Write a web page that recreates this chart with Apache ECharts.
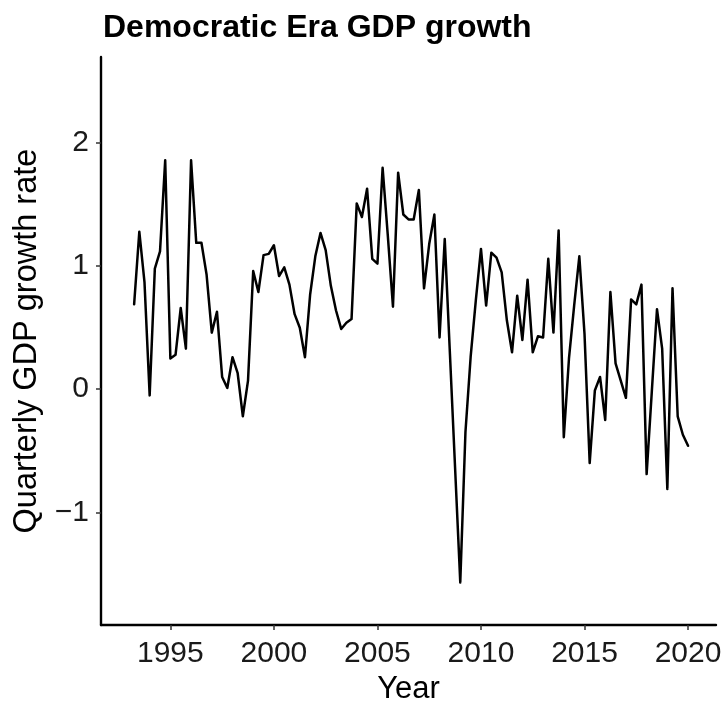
<!DOCTYPE html>
<html>
<head>
<meta charset="utf-8">
<script src="https://cdn.jsdelivr.net/npm/echarts@6/dist/echarts.min.js"></script>
<style>
html,body{margin:0;padding:0;background:#fff;}
#chart{width:725px;height:710px;}
</style>
</head>
<body>
<div id="chart"></div>
<script>
// Quarterly GDP growth, first observation 1993 Q2, last 2020 Q1
const firstYear = 1993;
const firstQuarter = 2;
const growth = [
  0.69, 1.28, 0.87,
  -0.05, 0.98, 1.12, 1.86,
  0.25, 0.28, 0.66, 0.33,
  1.86, 1.19, 1.19, 0.93,
  0.46, 0.63, 0.10, 0.01,
  0.26, 0.13, -0.22, 0.07,
  0.96, 0.79, 1.09, 1.10,
  1.17, 0.92, 0.99, 0.85,
  0.61, 0.50, 0.26, 0.77,
  1.08, 1.27, 1.13, 0.84,
  0.64, 0.49, 0.54, 0.57,
  1.51, 1.40, 1.63, 1.06,
  1.02, 1.80, 1.25, 0.67,
  1.76, 1.42, 1.38, 1.38,
  1.62, 0.82, 1.18, 1.42,
  0.42, 1.22, 0.29, -0.64,
  -1.57, -0.35, 0.26, 0.72,
  1.14, 0.68, 1.11, 1.07,
  0.95, 0.56, 0.30, 0.76,
  0.40, 0.89, 0.30, 0.43,
  0.42, 1.06, 0.46, 1.29,
  -0.39, 0.25, 0.68, 1.08,
  0.45, -0.60, -0.01, 0.10,
  -0.25, 0.79, 0.21, 0.07,
  -0.07, 0.73, 0.69, 0.85,
  -0.69, -0.02, 0.65, 0.33,
  -0.81, 0.82, -0.22, -0.37,
  -0.46
];
const xTicks = [1995, 2000, 2005, 2010, 2015, 2020];
const yTicks = [-1, 0, 1, 2];

// quarter start dates as decimal years
const points = growth.map((v, i) => {
  const q = firstQuarter - 1 + i;
  const yr = firstYear + Math.floor(q / 4) + (q % 4) / 4;
  return [yr, v];
});

const font = '"Liberation Sans", Arial, Helvetica, sans-serif';
const chart = echarts.init(document.getElementById('chart'), null, {renderer: 'canvas'});
chart.setOption({
  animation: false,
  backgroundColor: '#ffffff',
  title: {
    text: 'Democratic Era GDP growth',
    left: 98,
    top: 7,
    textStyle: {fontFamily: font, fontSize: 32, fontWeight: 'bold', color: '#000'}
  },
  grid: {left: 101, right: 9, top: 57, bottom: 79, containLabel: false},
  xAxis: {
    type: 'value',
    min: 1991.65,
    max: 2021.35,
    name: 'Year',
    nameLocation: 'middle',
    nameGap: 42,
    nameTextStyle: {fontFamily: font, fontSize: 31, color: '#000'},
    axisLine: {onZero: false, lineStyle: {color: '#000', width: 2.4}},
    axisTick: {show: true, customValues: xTicks, length: 5, lineStyle: {color: '#333', width: 1.5}},
    axisLabel: {customValues: xTicks, fontFamily: font, fontSize: 30, color: '#1a1a1a', margin: 14,
      formatter: v => String(v)},
    splitLine: {show: false}
  },
  yAxis: {
    type: 'value',
    min: -1.917,
    max: 2.70,
    name: 'Quarterly GDP growth rate',
    nameLocation: 'middle',
    nameGap: 55,
    nameRotate: 90,
    nameTextStyle: {fontFamily: font, fontSize: 32.5, color: '#000'},
    axisLine: {show: true, onZero: false, lineStyle: {color: '#000', width: 2.4}},
    axisTick: {show: true, customValues: yTicks, length: 5, lineStyle: {color: '#333', width: 1.5}},
    axisLabel: {customValues: yTicks, fontFamily: font, fontSize: 30, color: '#1a1a1a', margin: 12,
      formatter: v => String(v).replace('-', '\u2212')},
    splitLine: {show: false}
  },
  series: [{
    type: 'line',
    data: points,
    showSymbol: false,
    symbol: 'none',
    lineStyle: {color: '#000', width: 2.5, join: 'round', cap: 'round'},
    silent: true
  }]
});
</script>
</body>
</html>
